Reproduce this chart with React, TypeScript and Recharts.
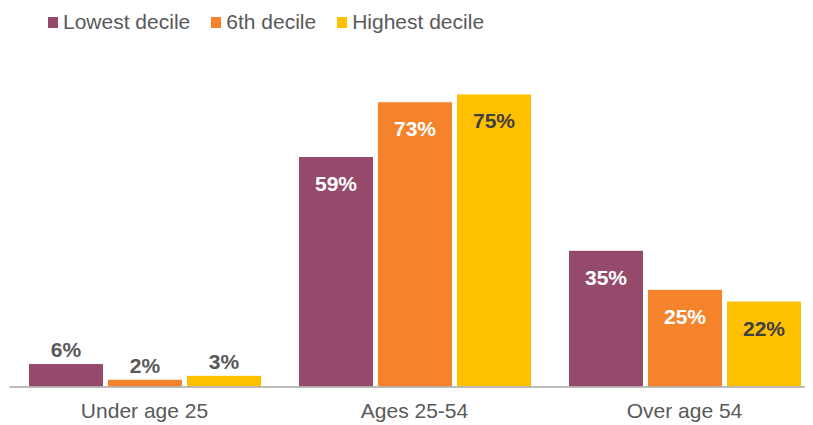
import React from "react";
import { BarChart, Bar, XAxis, YAxis, LabelList } from "recharts";

const categories = ["Under age 25", "Ages 25-54", "Over age 54"];
const lowestDecile = [6, 59, 35];
const sixthDecile = [2, 73, 25];
const highestDecile = [3, 75, 22];

const seriesNames = ["Lowest decile", "6th decile", "Highest decile"];
const seriesKeys = ["lowest", "sixth", "highest"];
const seriesColors = ["#964A6B", "#F5832B", "#FFC000"];
const insideLabelColors = ["#FFFFFF", "#FFFFFF", "#404040"];

const data = categories.map((c, i) => ({
  name: c,
  lowest: lowestDecile[i],
  sixth: sixthDecile[i],
  highest: highestDecile[i],
}));

const FONT = "'Liberation Sans', Arial, sans-serif";

const makeLabel = (insideColor: string) => (props: any) => {
  const { x, y, width, value } = props;
  const outside = value < 10;
  const cx = x + width / 2;
  const cy = outside ? y - 14 : y + 27;
  return (
    <text
      x={cx}
      y={cy}
      textAnchor="middle"
      dominantBaseline="central"
      fontFamily={FONT}
      fontWeight="bold"
      fontSize={21}
      fill={outside ? "#595959" : insideColor}
    >
      {value}%
    </text>
  );
};

const LegendRow = () => (
  <div
    style={{
      position: "absolute",
      left: 40,
      top: 2,
      display: "flex",
      fontFamily: FONT,
      fontSize: 21,
      color: "#595959",
      whiteSpace: "nowrap",
    }}
  >
    {seriesNames.map((n, i) => (
      <div key={n} style={{ display: "flex", alignItems: "center", marginRight: 21 }}>
        <span
          style={{
            display: "inline-block",
            width: 10,
            height: 11,
            background: seriesColors[i],
            marginRight: 5,
          }}
        />
        <span>{n}</span>
      </div>
    ))}
  </div>
);

export default function App() {
  return (
    <div style={{ position: "relative", width: 811.5, height: 417 }}>
      <LegendRow />
      <BarChart
        width={811.5}
        height={417}
        data={data}
        margin={{ top: 66.4, right: 0, left: 1.5, bottom: 8 }}
        barGap={4}
        barCategoryGap={18.5}
      >
        <XAxis
          dataKey="name"
          height={30}
          axisLine={{ stroke: "#A6A6A6", strokeWidth: 1.5 }}
          tickLine={false}
          tick={{ fill: "#595959", fontSize: 21, fontFamily: FONT }}
          tickMargin={10}
          interval={0}
        />
        <YAxis hide domain={[0, 80]} />
        {seriesKeys.map((k, i) => (
          <Bar
            key={k}
            dataKey={k}
            name={seriesNames[i]}
            fill={seriesColors[i]}
            stroke="#FFFFFF"
            strokeWidth={1}
            barSize={75}
            isAnimationActive={false}
          >
            <LabelList dataKey={k} content={makeLabel(insideLabelColors[i])} />
          </Bar>
        ))}
      </BarChart>
    </div>
  );
}
